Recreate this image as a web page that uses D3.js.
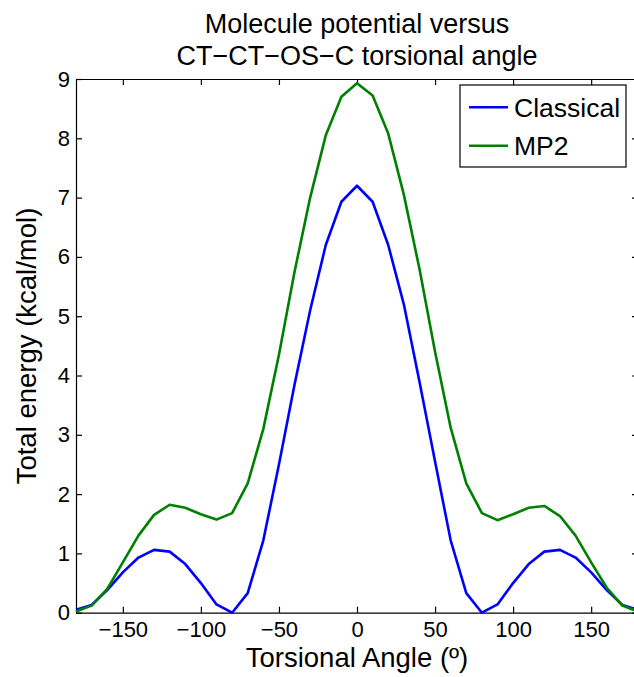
<!DOCTYPE html>
<html>
<head>
<meta charset="utf-8">
<script src="https://cdn.jsdelivr.net/npm/d3@7"></script>
<style>
  body { margin: 0; background: #fff; }
  svg text { font-family: "Liberation Sans", Arial, Helvetica, sans-serif; fill: #000; }
</style>
</head>
<body>
<div id="chart"></div>
<script>
// torsional angle, degrees
var angles = [-180, -170, -160, -150, -140, -130, -120, -110, -100, -90, -80, -70, -60, -50, -40, -30, -20, -10,
  0, 10, 20, 30, 40, 50, 60, 70, 80, 90, 100, 110, 120, 130, 140, 150, 160, 170, 180];

// energies, kcal/mol
var classical = [0.05, 0.13, 0.38, 0.68, 0.93, 1.06, 1.03, 0.82, 0.50, 0.14, 0.00, 0.33, 1.22, 2.50, 3.85, 5.10, 6.20, 6.93,
  7.20, 6.93, 6.20, 5.20, 3.90, 2.55, 1.22, 0.33, 0.00, 0.14, 0.50, 0.82, 1.03, 1.06, 0.93, 0.68, 0.38, 0.13, 0.05];
var mp2 = [0.02, 0.12, 0.40, 0.85, 1.30, 1.65, 1.82, 1.77, 1.66, 1.57, 1.68, 2.18, 3.10, 4.35, 5.75, 7.00, 8.05, 8.70,
  8.93, 8.72, 8.08, 7.05, 5.80, 4.40, 3.12, 2.18, 1.68, 1.56, 1.66, 1.77, 1.80, 1.63, 1.30, 0.85, 0.42, 0.12, 0.02];

var xTicks = [-150, -100, -50, 0, 50, 100, 150];
var yTicks = [0, 1, 2, 3, 4, 5, 6, 7, 8, 9];

var seriesNames = ["Classical", "MP2"];
var seriesColors = ["#0000ff", "#008000"];

var width = 634, height = 677;
// plot box (right edge falls just outside the picture)
var plotLeft = 76, plotRight = 638, plotTop = 79, plotBottom = 612.7;

var svg = d3.select('#chart').append('svg')
  .attr('width', width)
  .attr('height', height);

var xScale = d3.scaleLinear().domain([-180, 180]).range([plotLeft, plotRight]);
var yScale = d3.scaleLinear().domain([0, 9]).range([plotBottom, plotTop]);

/* axes, matlab style box with inward ticks */
svg.append('g')
  .attr('transform', 'translate(0,' + plotBottom + ')')
  .call(d3.axisBottom(xScale).tickValues(xTicks).tickSizeInner(-6).tickSizeOuter(0).tickPadding(9))
  .call(g => g.selectAll('text').style('font-size', '22px'));
svg.append('g')
  .attr('transform', 'translate(0,' + plotTop + ')')
  .call(d3.axisTop(xScale).tickValues(xTicks).tickSizeInner(-6).tickSizeOuter(0).tickFormat(''));
svg.append('g')
  .attr('transform', 'translate(' + plotLeft + ',0)')
  .call(d3.axisLeft(yScale).tickValues(yTicks).tickSizeInner(-6).tickSizeOuter(0).tickPadding(6))
  .call(g => g.selectAll('text').style('font-size', '22px'));
svg.append('g')
  .attr('transform', 'translate(' + plotRight + ',0)')
  .call(d3.axisRight(yScale).tickValues(yTicks).tickSizeInner(-6).tickSizeOuter(0).tickFormat(''));

svg.selectAll('.domain, .tick line').attr('stroke', '#000').attr('stroke-width', 1.2);

/* lines */
var line = d3.line()
  .x((d, i) => xScale(angles[i]))
  .y(d => yScale(d));

[classical, mp2].forEach(function (vals, k) {
  svg.append('path')
    .attr('d', line(vals))
    .attr('fill', 'none')
    .attr('stroke', seriesColors[k])
    .attr('stroke-width', 2.6)
    .attr('stroke-linejoin', 'round');
});

/* titles */
svg.append('text')
  .attr('x', 357).attr('y', 33)
  .attr('text-anchor', 'middle')
  .style('font-size', '27px')
  .text('Molecule potential versus');
svg.append('text')
  .attr('x', 357).attr('y', 65)
  .attr('text-anchor', 'middle')
  .style('font-size', '27px')
  .text('CT\u2212CT\u2212OS\u2212C torsional angle');

svg.append('text')
  .attr('x', 357).attr('y', 667)
  .attr('text-anchor', 'middle')
  .style('font-size', '27.5px')
  .text('Torsional Angle (\u00ba)');

svg.append('text')
  .attr('transform', 'translate(36,346) rotate(-90)')
  .attr('text-anchor', 'middle')
  .style('font-size', '27.5px')
  .text('Total energy (kcal/mol)');

/* legend */
var legend = svg.append('g');
legend.append('rect')
  .attr('x', 460).attr('y', 85)
  .attr('width', 166).attr('height', 82)
  .attr('fill', '#fff')
  .attr('stroke', '#000')
  .attr('stroke-width', 1.2);

seriesNames.forEach(function (name, k) {
  var cy = 107.3 + k * 38.4;
  legend.append('line')
    .attr('x1', 469).attr('x2', 508)
    .attr('y1', cy).attr('y2', cy)
    .attr('stroke', seriesColors[k])
    .attr('stroke-width', 2.6);
  legend.append('text')
    .attr('x', 514).attr('y', cy + 9.6)
    .style('font-size', '26.5px')
    .text(name);
});
</script>
</body>
</html>
